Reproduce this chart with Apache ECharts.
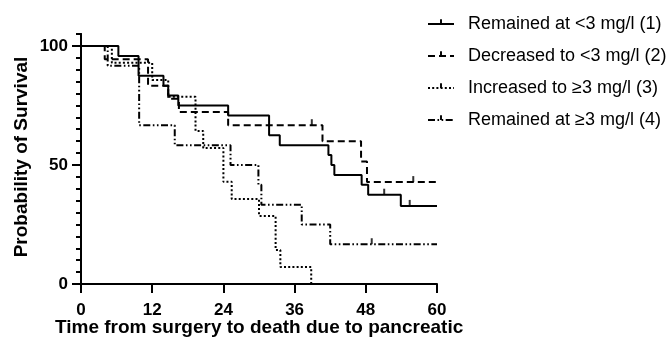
<!DOCTYPE html>
<html><head><meta charset="utf-8">
<script src="https://cdn.jsdelivr.net/npm/echarts@6/dist/echarts.min.js"></script>
<style>html,body{margin:0;padding:0;background:#fff}#c{width:669px;height:341px}</style>
</head><body><div id="c"></div>
<script>
const seriesNames = ['Remained at <3 mg/l (1)', 'Decreased to <3 mg/l (2)', 'Increased to \u22653 mg/l (3)', 'Remained at \u22653 mg/l (4)'];

const g1Time = [0, 6.3, 9.7, 13.9, 14.7, 16.4, 24.8, 31.7, 33.5, 41.7, 42.2, 42.7, 47.3, 48.4, 53.9, 60];
const g1Surv = [100, 95.8, 87.5, 83.3, 79.2, 75.0, 70.8, 62.5, 58.3, 54.2, 50.0, 45.8, 41.7, 37.5, 32.8, 32.8];
const g1CensorTime = [51.1, 55.4];
const g1CensorSurv = [37.5, 32.8];

const g2Time = [0, 4.0, 11.3, 14.7, 16.5, 24.8, 40.7, 47.2, 48.2, 60];
const g2Surv = [100, 94.4, 83.3, 77.8, 72.2, 66.7, 60.0, 51.4, 42.8, 42.8];
const g2CensorTime = [38.9, 56.0];
const g2CensorSurv = [66.7, 42.8];

const g3Time = [0, 5.2, 12.0, 14.7, 19.3, 20.6, 24.0, 25.4, 30.0, 32.8, 33.6, 38.8];
const g3Surv = [100, 92.9, 85.7, 78.6, 64.3, 57.1, 42.9, 35.7, 28.6, 14.3, 7.1, 0];
const g3CensorTime = [];
const g3CensorSurv = [];

const g4Time = [0, 4.5, 9.8, 15.8, 25.2, 29.9, 30.4, 37.2, 42.0, 60];
const g4Surv = [100, 91.7, 66.7, 58.3, 50.0, 41.7, 33.3, 25.0, 16.7, 16.7];
const g4CensorTime = [49.0];
const g4CensorSurv = [16.7];

const xTicks = [0, 12, 24, 36, 48, 60];
const yTicks = [0, 50, 100];
const xTitle = 'Time from surgery to death due to pancreatic';
const yTitle = 'Probability of Survival';

const FONT = "'Liberation Sans', Arial, sans-serif";
const zip = (a, b) => a.map((v, i) => [v, b[i]]);
const dashes = ['solid', [7, 4], [2, 2.2], [7, 2.5, 1.6, 2.5, 1.6, 2.5]];
const times = [g1Time, g2Time, g3Time, g4Time];
const survs = [g1Surv, g2Surv, g3Surv, g4Surv];
const cT = [g1CensorTime, g2CensorTime, g3CensorTime, g4CensorTime];
const cS = [g1CensorSurv, g2CensorSurv, g3CensorSurv, g4CensorSurv];
const tickSym = 'path://M0,0L0,0.01L0.01,0.01Z M4,0L6,0L6,5L4,5Z M10,10L10,9.99L9.99,10Z';

const series = [];
for (let i = 0; i < 4; i++) {
  series.push({
    name: seriesNames[i], type: 'line', step: 'end',
    data: zip(times[i], survs[i]),
    showSymbol: false, symbol: tickSym,
    lineStyle: { color: '#000', width: 2, type: dashes[i], cap: 'butt' },
    itemStyle: { color: '#000' },
    silent: true, animation: false, z: 3
  });
  series.push({
    type: 'scatter', data: zip(cT[i], cS[i]),
    symbol: 'rect', symbolSize: [2, 6], symbolOffset: [0, -3],
    itemStyle: { color: '#000' }, silent: true, animation: false, z: 4
  });
}

const chart = echarts.init(document.getElementById('c'), null, { renderer: 'canvas' });
chart.setOption({
  animation: false,
  backgroundColor: '#fff',
  grid: [
    { left: 81, right: 232, top: 34, bottom: 57, containLabel: false, outerBoundsMode: 'none' },
    // helper grid whose right edge sits on the main y axis; carries the short 5-unit ticks
    { left: 30, right: 588, top: 34, bottom: 57, containLabel: false, outerBoundsMode: 'none' }
  ],
  xAxis: [{
    gridIndex: 0, type: 'value', min: 0, max: 60, interval: 12,
    axisLine: { show: true, onZero: false, lineStyle: { color: '#000', width: 2 } },
    axisTick: { show: true, length: 9, lineStyle: { color: '#000', width: 2 } },
    axisLabel: { show: true, margin: 18, color: '#000', fontFamily: FONT, fontWeight: 'bold', fontSize: 17,
      customValues: xTicks },
    splitLine: { show: false }
  }, {
    gridIndex: 1, type: 'value', min: 0, max: 1, show: false
  }],
  yAxis: [{
    gridIndex: 0, type: 'value', min: 0, max: 105,
    axisLine: { show: true, onZero: false, lineStyle: { color: '#000', width: 2 } },
    axisTick: { show: true, length: 9, lineStyle: { color: '#000', width: 2 }, customValues: yTicks },
    axisLabel: { show: true, margin: 13, color: '#000', fontFamily: FONT, fontWeight: 'bold', fontSize: 17,
      customValues: yTicks },
    splitLine: { show: false }
  }, {
    gridIndex: 1, type: 'value', min: 0, max: 105, interval: 5, position: 'right',
    axisLine: { show: true, onZero: false, lineStyle: { color: '#000', width: 2 } },
    axisTick: { show: true, inside: true, length: 5, lineStyle: { color: '#000', width: 2 } },
    axisLabel: { show: true, color: 'rgba(0,0,0,0)', fontSize: 6 },
    splitLine: { show: false }
  }],
  legend: {
    orient: 'vertical', left: 422, top: 10,
    itemWidth: 26, itemHeight: 12, itemGap: 14,
    data: seriesNames,
    textStyle: { color: '#000', fontFamily: FONT, fontSize: 18, padding: [0, 0, 0, 9] },
    selectedMode: false
  },
  graphic: [
    { type: 'text', left: 55, top: 318, style: { text: xTitle, fill: '#000', font: 'bold 19px ' + FONT } },
    { type: 'text', x: 22, y: 157, rotation: Math.PI / 2,
      style: { text: yTitle, fill: '#000', font: 'bold 19px ' + FONT, align: 'center', verticalAlign: 'middle' } }
  ],
  series: series
});
</script>
</body></html>
